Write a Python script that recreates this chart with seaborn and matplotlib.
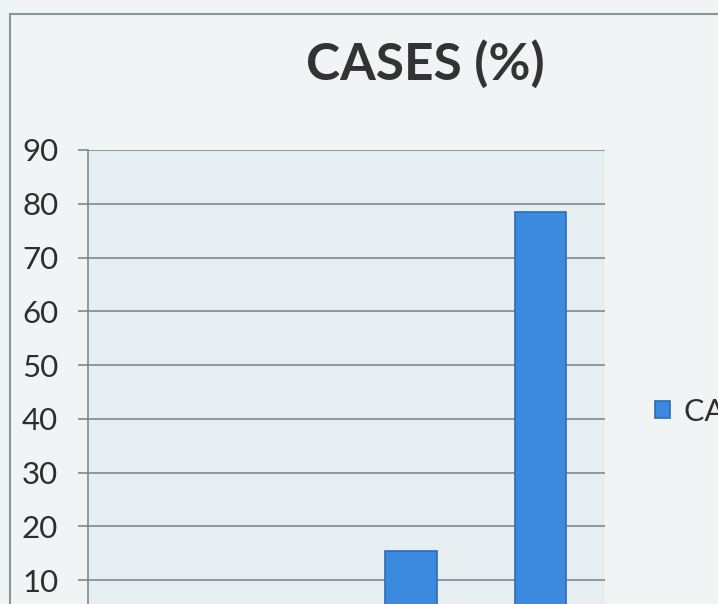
import matplotlib
matplotlib.use("Agg")
import matplotlib.pyplot as plt
import seaborn as sns
import pandas as pd
from matplotlib.patches import Rectangle

# data (first two bars sit below the visible crop)
categories = ["Grade I", "Grade II", "Grade III", "Grade IV"]
cases_pct = [2, 4, 15.5, 78.5]
yticks = [10, 20, 30, 40, 50, 60, 70, 80, 90]

df = pd.DataFrame({"category": categories, "cases": cases_pct})

sns.set_theme(style="white")
plt.rcParams["font.family"] = ["Lato", "DejaVu Sans"]

fig = plt.figure(figsize=(7.18, 6.04), dpi=100)
fig.patch.set_facecolor("#f1f4f4")

# plot area (bottom runs off the scanned crop)
ax = fig.add_axes([88 / 718, -30 / 604, 517 / 718, 484 / 604])
ax.set_facecolor("#e6eef1")

sns.barplot(data=df, x="category", y="cases", ax=ax, color="#3b8ae0",
            saturation=1, width=0.4, edgecolor="#2b6db5", linewidth=1.2,
            label="CASES (%)", zorder=3)

ax.set_ylim(0, 90)
ax.set_yticks(yticks)
ax.yaxis.grid(True, color="#7d8a8f", linewidth=1.2, zorder=0)
ax.set_axisbelow(True)
ax.tick_params(axis="y", direction="out", length=7.5, width=1.2,
               color="#7d8a8f", labelsize=22.5, labelcolor="#2e2e2e", pad=14, left=True)
ax.tick_params(axis="x", bottom=False, labelbottom=False)
ax.set_xlabel("")
ax.set_ylabel("")
for s in ["top", "right", "bottom"]:
    ax.spines[s].set_visible(False)
ax.spines["left"].set_color("#7d8a8f")
ax.spines["left"].set_linewidth(1.2)

fig.text(425 / 718, 1 - 64 / 604, "CASES (%)", ha="center", va="center",
         fontsize=37, fontweight="bold", color="#333333")

ax.legend(loc="center left", bbox_to_anchor=(655 / 718, 1 - 411 / 604),
          bbox_transform=fig.transFigure, frameon=False, fontsize=22,
          handlelength=0.5, handleheight=0.5, handletextpad=0.45,
          borderpad=0, borderaxespad=0, labelcolor="#2e2e2e")

# outer chart border
fig.patches.append(Rectangle((10 / 718, -0.1), 1.0, 1 - 14 / 604 + 0.1,
                             transform=fig.transFigure, fill=False,
                             edgecolor="#8a9598", linewidth=1.5))

plt.savefig("out.png", dpi=100, facecolor=fig.get_facecolor())
